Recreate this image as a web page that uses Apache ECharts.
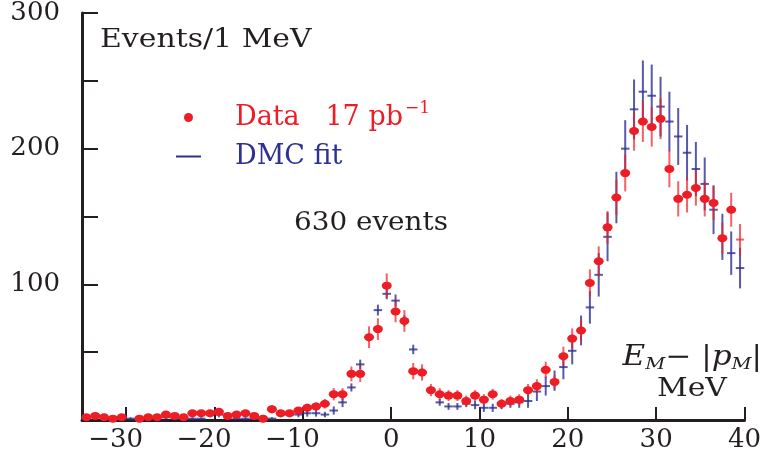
<!DOCTYPE html>
<html>
<head>
<meta charset="utf-8">
<script src="https://cdn.jsdelivr.net/npm/echarts@6/dist/echarts.min.js"></script>
<style>
html,body{margin:0;padding:0;background:#fff;}
#chart{width:764px;height:461px;}
</style>
</head>
<body>
<div id="chart"></div>
<script>
// Bin centres (MeV), 1 MeV bins
const bins = [-34.5,-33.5,-32.5,-31.5,-30.5,-29.5,-28.5,-27.5,-26.5,-25.5,
  -24.5,-23.5,-22.5,-21.5,-20.5,-19.5,-18.5,-17.5,-16.5,-15.5,
  -14.5,-13.5,-12.5,-11.5,-10.5,-9.5,-8.5,-7.5,-6.5,-5.5,
  -4.5,-3.5,-2.5,-1.5,-0.5,0.5,1.5,2.5,3.5,4.5,
  5.5,6.5,7.5,8.5,9.5,10.5,11.5,12.5,13.5,14.5,
  15.5,16.5,17.5,18.5,19.5,20.5,21.5,22.5,23.5,24.5,
  25.5,26.5,27.5,28.5,29.5,30.5,31.5,32.5,33.5,34.5,
  35.5,36.5,37.5,38.5,39.5];
// Data 17 pb^-1 (events per bin) and error half-lengths
const dataCounts = [2,3,2,1,2,null,1,2,2,4,
  3,2,5,5,5,6,3,4,5,3,
  1,8,5,5,7,9,10,12,19,19,
  34,34,61,67,99,80,73,36,35,22,
  19,18,18,14,18,15,19,12,14,15,
  22,25,37,28,47,60,66,101,117,142,
  164,182,213,220,216,222,185,163,166,171,
  163,160,134,155,133];
const dataErr = [1.5,2,1.5,1,1.5,0,1,1.5,1.5,2,
  2,1.5,2,2,2,2.5,2,2,2,2,
  1,3,2,2,2.5,3,3,3.5,4.5,4.5,
  5.5,6,8,8,9,8,8,6,6,4.5,
  4.5,4,4,4,4,4,4,3.5,4,4,
  4.5,5,6,5,7,7.5,8,10,11,12,
  13,13.5,14.5,15,14.5,15,13.5,13,13,13,
  13,12.5,11.5,12.5,11.5];
// DMC fit (events per bin) and error half-lengths
const fitCounts = [2,3,2,1,1,1,1,1,2,2,
  1,1,1,1,4,4,2,1,1,1,
  1,1,4,4,4,5,5,4,7,13,
  24,41,61,81,93,88,73,52,35,22,
  13,10,10,12,11,9,9,11,12,13,
  14,21,25,29,39,51,66,83,107,135,
  164,200,229,242,239,231,220,209,197,185,
  174,155,135,123,112];
const fitErr = [1.5,2,1.5,1,1,1,1,1,1.5,1.5,
  1,1,1,1,2,2,1.5,1,1,1,
  1,1,2,2,2,2.5,2.5,2,3,3.5,
  3,3.5,3,4,4,4.5,4,3.5,3,2.7,
  2.5,2.5,2.5,2.5,3,3,3,3,3,4,
  5,7,7,7.5,9,10,11,12,16,18,
  19,21,22,23,23,22,22,21,20.5,20,
  19.5,18,17,16,15];
const xTicks = [-30,-20,-10,0,10,20,30,40];
const yTicks = [50,100,150,200,250,300];
const yLabels = [100,200,300];

const SERIF = '"DejaVu Serif", serif';
const RED = '#ee1c25';
const BLUE = '#2e3192';
const INK = '#231f20';
const DATA_NAME = 'Data  17 pb\u207B\u00B9';
const FIT_NAME = 'DMC fit';

const fitData = bins.map((x, i) => [x, fitCounts[i], fitErr[i]]);
const errData = bins.map((x, i) => dataCounts[i] == null ? [x, '-', 0] : [x, dataCounts[i], dataErr[i]]);
const lastIdx = bins.length - 1;
const dotData = bins.map((x, i) => {
  if (dataCounts[i] == null) return [x, '-'];
  if (i === lastIdx) return { value: [x, dataCounts[i]], symbol: 'none' };
  return [x, dataCounts[i]];
});

function barItem(stroke, halfW, capAlways) {
  return function (params, api) {
    const x = api.value(0), y = api.value(1), e = api.value(2);
    if (isNaN(y)) return;
    const t = api.coord([x, y + e]);
    const b = api.coord([x, Math.max(0, y - e)]);
    const children = [{
      type: 'line',
      shape: { x1: t[0], y1: t[1], x2: b[0], y2: b[1] },
      style: { stroke: stroke, lineWidth: 2 }
    }];
    if (capAlways || params.dataIndex === lastIdx) {
      const l = api.coord([x - halfW, y]);
      const r = api.coord([x + halfW, y]);
      children.push({
        type: 'line',
        shape: { x1: l[0], y1: l[1], x2: r[0], y2: r[1] },
        style: { stroke: stroke, lineWidth: 2 }
      });
    }
    return { type: 'group', children: children };
  };
}

const chart = echarts.init(document.getElementById('chart'), null, { renderer: 'canvas' });
chart.setOption({
  backgroundColor: '#ffffff',
  animation: false,
  grid: { left: 82, right: 14, top: 9, bottom: 41, containLabel: false },
  xAxis: {
    type: 'value', min: -35, max: 40,
    axisLine: { show: true, onZero: false, lineStyle: { color: INK, width: 3 } },
    axisTick: { show: true, inside: true, length: 13, customValues: xTicks, lineStyle: { color: INK, width: 2 } },
    axisLabel: {
      customValues: xTicks, margin: 7, color: INK, fontFamily: SERIF, fontSize: 26,
      formatter: v => v < 0 ? '{n|\u2212' + Math.abs(v) + '}' : '{p|' + v + '}',
      rich: {
        n: { fontFamily: SERIF, fontSize: 26, color: INK, padding: [0, 21, 0, 0] },
        p: { fontFamily: SERIF, fontSize: 26, color: INK }
      }
    },
    splitLine: { show: false }
  },
  yAxis: {
    type: 'value', min: 0, max: 300,
    axisLine: { show: true, onZero: false, lineStyle: { color: INK, width: 3 } },
    axisTick: { show: true, inside: true, length: 16, customValues: yTicks, lineStyle: { color: INK, width: 2 } },
    axisLabel: { customValues: yLabels, margin: 22, color: INK, fontFamily: SERIF, fontSize: 26 },
    splitLine: { show: false }
  },
  legend: {
    orient: 'vertical', left: 171, top: 95, itemWidth: 25, itemHeight: 9, itemGap: 12,
    selectedMode: false,
    formatter: function (name) {
      if (name === DATA_NAME) return '{r|Data}{r|   17 pb}{rs|\u22121}';
      return '{b|DMC fit}';
    },
    textStyle: {
      fontFamily: SERIF, fontSize: 27, padding: [0, 0, 0, 29],
      rich: {
        r: { fontFamily: SERIF, fontSize: 27, color: RED },
        rs: { fontFamily: SERIF, fontSize: 17, color: RED, padding: [0, 0, 18, 2] },
        b: { fontFamily: SERIF, fontSize: 27, color: BLUE }
      }
    },
    data: [
      { name: DATA_NAME, icon: 'circle' },
      { name: FIT_NAME, icon: 'path://M0,0 L25,0 L25,2 L0,2 Z' }
    ]
  },
  series: [
    {
      name: FIT_NAME, type: 'custom', z: 2,
      itemStyle: { color: BLUE },
      renderItem: barItem('rgba(46,49,146,0.8)', 0.48, true),
      encode: { x: 0, y: 1 },
      data: fitData
    },
    {
      name: 'Data errors', type: 'custom', z: 3,
      itemStyle: { color: RED },
      renderItem: barItem('rgba(238,28,37,0.7)', 0.45, false),
      encode: { x: 0, y: 1 },
      data: errData
    },
    {
      name: DATA_NAME, type: 'scatter', z: 4,
      symbol: 'circle', symbolSize: [10, 8],
      itemStyle: { color: RED, opacity: 1 },
      data: dotData
    }
  ],
  graphic: [
    { type: 'text', x: 100, y: 40, scaleX: 1.15,
      style: { x: 0, y: 0, text: 'Events/1 MeV', font: '26px ' + SERIF, fill: INK, align: 'left', verticalAlign: 'middle' } },
    { type: 'text', x: 294, y: 223, scaleX: 1.07,
      style: { x: 0, y: 0, text: '630 events', font: '26px ' + SERIF, fill: INK, align: 'left', verticalAlign: 'middle' } },
    { type: 'text', x: 762, y: 358, scaleX: 1.15,
      style: {
        x: 0, y: 0, align: 'right', verticalAlign: 'middle',
        text: '{i|E}{s|M}{n|\u2212 |}{i|p}{s|M}{n||}',
        rich: {
          i: { fontFamily: SERIF, fontStyle: 'italic', fontSize: 27, fill: INK },
          s: { fontFamily: SERIF, fontStyle: 'italic', fontSize: 17, fill: INK, padding: [14, 0, 0, 0] },
          n: { fontFamily: SERIF, fontSize: 27, fill: INK }
        }
      } },
    { type: 'text', x: 692, y: 389, scaleX: 1.15,
      style: { x: 0, y: 0, text: 'MeV', font: '26px ' + SERIF, fill: INK, align: 'center', verticalAlign: 'middle' } }
  ]
});
</script>
</body>
</html>
